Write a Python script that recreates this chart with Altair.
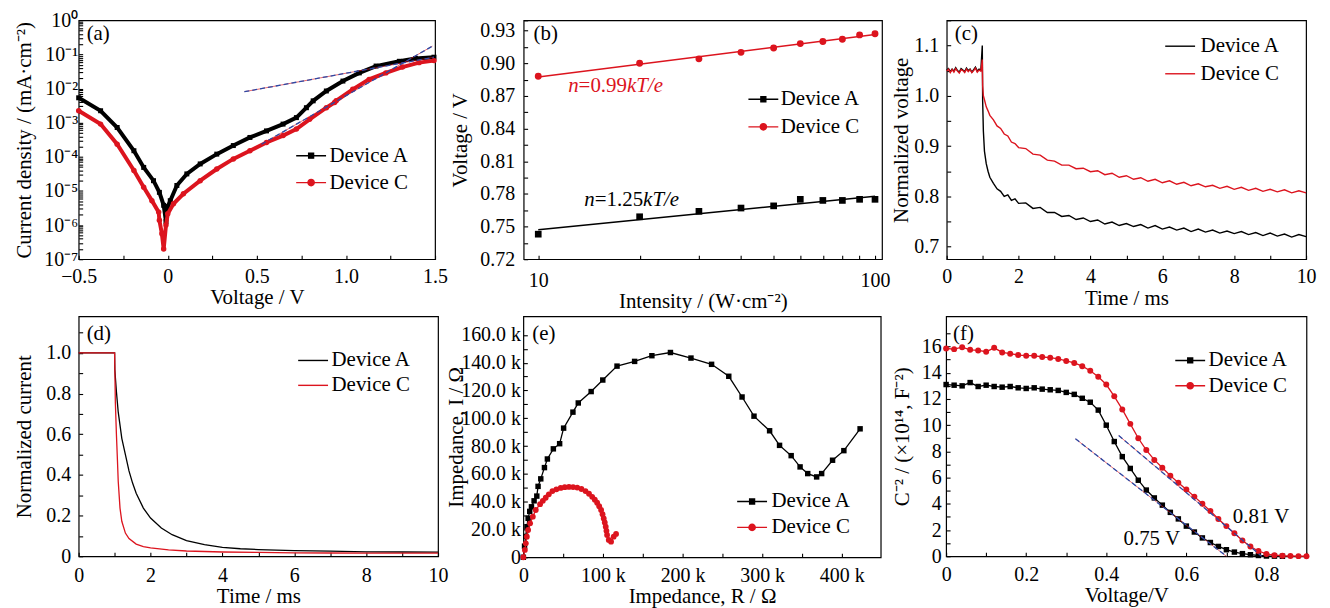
import altair as alt
import pandas as pd

FONT = "Liberation Serif"
RED = "#dc141e"
BLACK = "#000000"
BLUE = "#2b49a6"
DEV_A, DEV_C = "Device A", "Device C"
DEVICES = [DEV_A, DEV_C]

PATH_SQ = "M-2,0H2M-0.33,-0.33H0.33V0.33H-0.33Z"
PATH_CI = "M-2,0H2M0.42,0A0.42,0.42,0,1,1,-0.42,0A0.42,0.42,0,1,1,0.42,0Z"
PATH_LINE = "M-2,0H2"

# ---------------- (a) J-V curves ----------------
a_volt_A = [-0.5, -0.377, -0.284, -0.19, -0.135, -0.08, -0.047, -0.023, -0.01, 0.0, 0.014, 0.051,
            0.107, 0.182, 0.275, 0.368, 0.461, 0.554, 0.647, 0.722, 0.778, 0.816, 0.89, 0.983,
            1.075, 1.169, 1.30, 1.39, 1.494]
a_curr_A = [5.37e-3, 2.24e-3, 7.24e-4, 1.51e-4, 4.9e-5, 2.0e-5, 9.1e-6, 3.8e-6, 1.26e-6, 3.5e-6,
            5.2e-6, 1.45e-5, 3.16e-5, 6.2e-5, 1.2e-4, 2.14e-4, 3.7e-4, 5.75e-4, 9.1e-4, 1.41e-3,
            2.75e-3, 4.37e-3, 8.5e-3, 1.66e-2, 2.88e-2, 4.57e-2, 6.3e-2, 7.6e-2, 8.3e-2]
a_volt_C = [-0.5, -0.377, -0.284, -0.19, -0.135, -0.089, -0.051, -0.047, -0.033, -0.023, -0.01, 0.0,
            0.032, 0.088, 0.182, 0.275, 0.368, 0.461, 0.554, 0.647, 0.722, 0.796, 0.89, 0.936,
            0.945, 1.038, 1.13, 1.224, 1.317, 1.41, 1.494]
a_curr_C = [2.24e-3, 9.1e-4, 2.34e-4, 3.98e-5, 1.29e-5, 5.2e-6, 2.4e-6, 1.38e-6, 5.6e-7, 2.0e-7,
            1.0e-6, 2.14e-6, 4.2e-6, 8.3e-6, 2.0e-5, 4.4e-5, 8.7e-5, 1.51e-4, 2.63e-4, 4.2e-4,
            6.5e-4, 1.26e-3, 2.75e-3, 3.9e-3, 4.37e-3, 9.5e-3, 1.86e-2, 2.88e-2, 4.27e-2, 5.75e-2,
            6.6e-2]
a_fit_volt = [0.43, 1.494, 0.526, 1.485]
a_fit_curr = [8.1e-3, 8.3e-2, 2.34e-4, 0.175]
a_fit_id = ["1", "1", "2", "2"]

# ---------------- (b) Voc vs intensity ----------------
b_intensity = [10, 20, 30, 40, 50, 60, 70, 80, 90, 100]
b_volt_A = [0.743, 0.759, 0.764, 0.767, 0.769, 0.775, 0.774, 0.774, 0.775, 0.775]
b_volt_C = [0.888, 0.900, 0.904, 0.910, 0.914, 0.918, 0.920, 0.922, 0.926, 0.927]
b_fit_int = [10, 100]
b_fit_A = [0.7471, 0.7779]
b_fit_C = [0.8873, 0.9263]
b_note_C = ["n", "=0.99", "kT/e"]
b_note_A = ["n", "=1.25", "kT/e"]

# ---------------- (c) transient photovoltage ----------------
c_time = [0.0, 0.05, 0.1, 0.15, 0.2, 0.25, 0.3, 0.35, 0.4, 0.45, 0.5, 0.55, 0.6, 0.65, 0.7, 0.75,
          0.8, 0.85, 0.9, 0.95, 0.99, 1.0, 1.02, 1.05, 1.1, 1.15,
          1.2, 1.3, 1.4, 1.5, 1.6, 1.7, 1.8, 1.9, 2.0, 2.2, 2.4, 2.6, 2.8, 3.0, 3.2, 3.4, 3.6, 3.8,
          4.0, 4.2, 4.4, 4.6, 4.8, 5.0, 5.2, 5.4, 5.6, 5.8, 6.0, 6.2, 6.4, 6.6, 6.8, 7.0, 7.2, 7.4,
          7.6, 7.8, 8.0, 8.2, 8.4, 8.6, 8.8, 9.0, 9.2, 9.4, 9.6, 9.8, 10.0]
c_volt_A = [1.051, 1.054, 1.048, 1.053, 1.049, 1.056, 1.050, 1.047, 1.054, 1.051, 1.048, 1.055,
            1.050, 1.053, 1.047, 1.052, 1.057, 1.049, 1.053, 1.051, 1.100,
            0.990, 0.930, 0.890, 0.865, 0.850, 0.838, 0.826, 0.815, 0.810, 0.800, 0.803, 0.792,
            0.795, 0.786, 0.787, 0.776, 0.778, 0.768, 0.768, 0.760, 0.762, 0.754, 0.757, 0.750,
            0.753, 0.745, 0.749, 0.742, 0.746, 0.740, 0.744, 0.737, 0.742, 0.735, 0.739, 0.733,
            0.737, 0.730, 0.735, 0.729, 0.733, 0.727, 0.731, 0.726, 0.730, 0.724, 0.728, 0.722,
            0.727, 0.721, 0.725, 0.719, 0.724, 0.720]
c_volt_C = [1.049, 1.053, 1.046, 1.052, 1.047, 1.054, 1.049, 1.045, 1.052, 1.050, 1.046, 1.053,
            1.048, 1.052, 1.046, 1.050, 1.055, 1.047, 1.051, 1.049, 1.072,
            1.020, 1.000, 0.992, 0.978, 0.970, 0.961, 0.952, 0.940, 0.935, 0.924, 0.920, 0.908,
            0.905, 0.897, 0.895, 0.884, 0.882, 0.872, 0.870, 0.862, 0.862, 0.855, 0.856, 0.849,
            0.851, 0.843, 0.846, 0.838, 0.841, 0.834, 0.837, 0.830, 0.834, 0.827, 0.831, 0.824,
            0.828, 0.821, 0.825, 0.819, 0.822, 0.816, 0.820, 0.814, 0.818, 0.812, 0.816, 0.810,
            0.814, 0.809, 0.813, 0.807, 0.811, 0.807]

# ---------------- (d) transient photocurrent ----------------
d_time_A = [0.0, 0.5, 1.0, 1.005, 1.05, 1.1, 1.2, 1.3, 1.4, 1.5, 1.6, 1.8, 2.0, 2.3, 2.6, 3.0, 3.5,
            4.0, 4.5, 5.0, 6.0, 7.0, 8.0, 9.0, 10.0]
d_curr_A = [1.0, 1.0, 1.0, 0.92, 0.81, 0.71, 0.58, 0.50, 0.42, 0.36, 0.31, 0.237, 0.188, 0.139,
            0.106, 0.077, 0.057, 0.044, 0.037, 0.033, 0.028, 0.025, 0.022, 0.021, 0.020]
d_time_C = [0.0, 0.5, 1.0, 1.02, 1.05, 1.08, 1.1, 1.15, 1.2, 1.3, 1.4, 1.6, 1.8, 2.0, 2.5, 3.0, 4.0,
            5.0, 6.0, 7.0, 8.0, 9.0, 10.0]
d_curr_C = [1.0, 1.0, 1.0, 0.76, 0.60, 0.466, 0.37, 0.237, 0.172, 0.114, 0.087, 0.06, 0.048, 0.041,
            0.031, 0.026, 0.021, 0.019, 0.017, 0.016, 0.015, 0.015, 0.015]

# ---------------- (e) Nyquist (kOhm) ----------------
e_re_A = [0, 1.5, 3.0, 4.5, 6.0, 8.0, 10.2, 13.5, 16.9, 18.5, 21.9, 26.5, 30.2, 37.7, 45.6, 50.6,
          62.3, 69.0, 85.2, 99.8, 117.7, 139.8, 161.5, 184.8, 210.6, 236.5, 258.1, 274.8, 289.8,
          309.4, 321.9, 336.5, 347.7, 357.3, 368.5, 374.8, 388.5, 402.7, 423.1]
e_im_A = [0, 8, 15, 22, 28, 33, 36.3, 40.6, 44, 51, 56.4, 64.5, 70.7, 78, 81.7, 92.9, 104.4, 111,
          119.2, 127.5, 137.5, 140.9, 145, 147.3, 143.3, 138.8, 130.2, 115.3, 101.5, 91, 80.5, 73.1,
          65, 60.2, 57.8, 60.2, 69.8, 76.7, 92.4]
e_re_C = [0, 1.9, 3.1, 4.4, 6.0, 8.5, 11.9, 15.6, 21.0, 24.5, 28.1, 32.0, 36.5, 41.5, 46.9, 52.0,
          57.3, 62.5, 67.7, 73.0, 78.1, 82.5, 86.5, 89.8, 92.7, 95.3, 97.7, 99.5, 101.0, 102.3,
          103.5, 104.4, 105.2, 107.3, 110.2, 113.5, 116.5]
e_im_C = [0, 5.3, 10.0, 14.8, 19.6, 24.4, 29.2, 34.0, 38.2, 40.6, 42.8, 45.3, 47.6, 48.9, 49.9,
          50.4, 50.6, 50.5, 50.1, 49.1, 47.6, 45.7, 43.5, 41.4, 39.2, 36.7, 34.0, 31.0, 27.9, 25.0,
          22.0, 19.0, 16.0, 12.5, 11.2, 14.8, 16.8]

# ---------------- (f) Mott-Schottky ----------------
f_volt_A = [0.00, 0.02, 0.04, 0.06, 0.08, 0.10, 0.12, 0.14, 0.16, 0.18, 0.20, 0.22, 0.24, 0.26,
            0.28, 0.30, 0.32, 0.34, 0.36, 0.38, 0.40, 0.42, 0.44, 0.46, 0.48, 0.50, 0.52, 0.54,
            0.56, 0.58, 0.60, 0.62, 0.64, 0.66, 0.68, 0.70, 0.72, 0.74, 0.76, 0.78, 0.80, 0.82,
            0.84]
f_cap_A = [13.10, 13.05, 13.00, 13.25, 12.95, 13.05, 12.95, 12.90, 12.95, 12.85, 12.80, 12.85,
           12.75, 12.70, 12.65, 12.50, 12.35, 12.05, 11.75, 11.15, 10.00, 8.75, 7.60, 6.70, 5.80,
           5.05, 4.45, 3.90, 3.35, 2.85, 2.30, 1.85, 1.40, 1.05, 0.75, 0.50, 0.32, 0.20, 0.12,
           0.06, 0.02, 0.01, 0.0]
f_volt_C = [0.00, 0.02, 0.04, 0.06, 0.08, 0.10, 0.12, 0.14, 0.16, 0.18, 0.20, 0.22, 0.24, 0.26,
            0.28, 0.30, 0.32, 0.34, 0.36, 0.38, 0.40, 0.42, 0.44, 0.46, 0.48, 0.50, 0.52, 0.54,
            0.56, 0.58, 0.60, 0.62, 0.64, 0.66, 0.68, 0.70, 0.72, 0.74, 0.76, 0.78, 0.80, 0.82,
            0.84, 0.86, 0.88, 0.90]
f_cap_C = [15.85, 15.80, 15.95, 15.75, 15.70, 15.60, 15.90, 15.55, 15.45, 15.35, 15.30, 15.30,
           15.20, 15.15, 15.05, 14.90, 14.75, 14.50, 14.15, 13.70, 13.10, 12.20, 11.20, 10.10,
           9.00, 8.10, 7.35, 6.75, 6.15, 5.60, 5.10, 4.55, 4.00, 3.45, 2.85, 2.30, 1.75, 1.20,
           0.75, 0.40, 0.18, 0.08, 0.04, 0.02, 0.01, 0.00]
f_fit_volt = [0.323, 0.70, 0.431, 0.788]
f_fit_cap = [8.96, 0.0, 9.21, 0.0]
f_fit_id = ["A", "A", "C", "C"]
f_notes = ["0.81 V", "0.75 V"]
f_note_volt = [0.716, 0.443]
f_note_cap = [2.98, 1.35]

# ---------------- axis tick positions ----------------
a_xticks = [-0.5, -0.25, 0, 0.25, 0.5, 0.75, 1.0, 1.25, 1.5]
a_yticks = [m * 10.0 ** e for e in range(-7, 0) for m in range(1, 10)] + [1.0]
b_xticks = [10, 20, 30, 40, 50, 60, 70, 80, 90, 100]
b_yticks = [0.72, 0.735, 0.75, 0.765, 0.78, 0.795, 0.81, 0.825, 0.84, 0.855, 0.87, 0.885, 0.9,
            0.915, 0.93, 0.9394]
cd_xticks = [0, 1, 2, 3, 4, 5, 6, 7, 8, 9, 10]
c_yticks = [0.7, 0.75, 0.8, 0.85, 0.9, 0.95, 1.0, 1.05, 1.1, 1.15]
d_yticks = [0, 0.1, 0.2, 0.3, 0.4, 0.5, 0.6, 0.7, 0.8, 0.9, 1.0, 1.1]
e_xticks = [0, 50, 100, 150, 200, 250, 300, 350, 400]
e_yticks = [0, 10, 20, 30, 40, 50, 60, 70, 80, 90, 100, 110, 120, 130, 140, 150, 160]
f_xticks = [0, 0.1, 0.2, 0.3, 0.4, 0.5, 0.6, 0.7, 0.8, 0.9]
f_yticks = list(range(0, 18))

SUP = {0: "\u2070", 1: "\u207b\u00b9", 2: "\u207b\u00b2", 3: "\u207b\u00b3", 4: "\u207b\u2074",
       5: "\u207b\u2075", 6: "\u207b\u2076", 7: "\u207b\u2077"}
a_yexpr = "''"
for k in range(7, -1, -1):
    a_yexpr = f"abs(datum.value * 1e{k} - 1) < 1e-6 ? '10{SUP[k]}' : ({a_yexpr})"
a_xexpr = ("abs(datum.value*2 - round(datum.value*2)) > 0.001 ? '' : "
           "(datum.value == 0 ? '0' : format(datum.value, '.1f'))")
b_xexpr = "datum.value == 10 ? '10' : (datum.value == 100 ? '100' : '')"
b_yexpr = ("datum.value > 0.935 ? ' ' : (round((datum.value - 0.72)/0.015) % 2 == 0 ? "
           "format(datum.value, '.2f') : '')")
cd_xexpr = "datum.value % 2 == 0 ? format(datum.value, 'd') : ''"
c_yexpr = ("datum.value > 1.12 ? ' ' : (round(datum.value*20) % 2 == 0 ? "
           "format(datum.value, '.1f') : '')")
d_yexpr = ("datum.value == 0 ? '0' : (round(datum.value*10) % 2 == 0 ? "
           "format(datum.value, '.1f') : '')")
e_xexpr = ("datum.value == 0 ? '0' : "
           "(datum.value % 100 == 0 ? format(datum.value, 'd') + ' k' : '')")
e_yexpr = ("datum.value == 0 ? '0' : (datum.value % 20 == 0 ? "
           "format(datum.value, '.1f') + ' k' : '')")
f_xexpr = ("datum.value == 0 ? '0' : (round(datum.value*10) % 2 == 0 ? "
           "format(datum.value, '.1f') : '')")
f_yexpr = "datum.value % 2 == 0 ? format(datum.value, 'd') : ''"


def make_axis(title, values, expr, label_pad, extent):
    return alt.Axis(title=title, values=values, labelExpr=expr, labelPadding=label_pad,
                    minExtent=extent, maxExtent=extent, titlePadding=0, offset=-4, tickSize=4,
                    domain=False, grid=False, labelFlush=False, labelOverlap=False)


def xy(xf, yf, sx, sy, ax, ay):
    return dict(x=alt.X(xf, type="quantitative", scale=sx, axis=ax),
                y=alt.Y(yf, type="quantitative", scale=sy, axis=ay))


LX = -3.5   # shift of legend block (symbol) to the left
LOFF = -4.5  # correction of the legend label offset
XT = 2.0    # extra room between x tick labels and x titles


def legend_obj(lx, ly, row_pad, label_off, **kw):
    return alt.Legend(title=None, orient="none", legendX=lx + LX, legendY=ly, symbolSize=225,
                      symbolStrokeWidth=1.4, symbolOpacity=1, rowPadding=row_pad,
                      labelOffset=label_off + LOFF, padding=0, **kw)


def marker_legend(lx, ly, row_pad, label_off):
    lg = legend_obj(lx, ly, row_pad, label_off)
    col = alt.Scale(domain=DEVICES, range=[BLACK, RED])
    return alt.Chart(pd.DataFrame({"Device": DEVICES})).mark_point(
        filled=True, opacity=0, size=1).encode(
        x=alt.value(150), y=alt.value(100),
        fill=alt.Fill("Device:N", scale=col, legend=lg),
        stroke=alt.Stroke("Device:N", scale=col, legend=lg),
        shape=alt.Shape("Device:N", scale=alt.Scale(domain=DEVICES, range=[PATH_SQ, PATH_CI]),
                        legend=lg))


def letter(txt, px, py):
    return alt.Chart(pd.DataFrame({"t": [txt]})).mark_text(
        align="left", baseline="middle", font=FONT, fontSize=21, color=BLACK).encode(
        text="t:N", x=alt.value(px), y=alt.value(py))


def fit_layers(df, enc_kw):
    return [
        alt.Chart(df).mark_line(color=RED, strokeWidth=0.8, opacity=0.8).encode(
            detail="k:N", **enc_kw),
        alt.Chart(df).mark_line(color=BLUE, strokeWidth=1.3, strokeDash=[5, 3]).encode(
            detail="k:N", **enc_kw),
    ]


# ================= panel (a) =================
sx = alt.Scale(domain=[-0.5, 1.5], nice=False, zero=False)
sy = alt.Scale(type="log", domain=[1e-7, 1], nice=False)
ax = make_axis("Voltage / V", a_xticks, a_xexpr, 7.8, 27.5 + XT + 2)
ay = make_axis("Current density / (mA\u00b7cm\u207b\u00b2)", a_yticks, a_yexpr, 1, 48.7)
E = xy("v", "j", sx, sy, ax, ay)
dfA = pd.DataFrame({"v": a_volt_A, "j": a_curr_A})
dfC = pd.DataFrame({"v": a_volt_C, "j": a_curr_C})
dfF = pd.DataFrame({"v": a_fit_volt, "j": a_fit_curr, "k": a_fit_id})
pa = alt.layer(
    alt.Chart(dfA).mark_line(color=BLACK, strokeWidth=4).encode(**E),
    alt.Chart(dfA).mark_point(shape="square", filled=True, color=BLACK, size=25, opacity=1).encode(**E),
    alt.Chart(dfC).mark_line(color=RED, strokeWidth=4).encode(**E),
    alt.Chart(dfC).mark_point(shape="circle", filled=True, color=RED, size=30, opacity=1).encode(**E),
    *fit_layers(dfF, E),
    marker_legend(226.5, 125.5, 5, 12.5),
    letter("(a)", 8, 14),
).properties(width=358, height=240)

# ================= panel (b) =================
sx = alt.Scale(type="log", domain=[9.05, 104.9], nice=False)
sy = alt.Scale(domain=[0.72, 0.9394], nice=False, zero=False)
ax = make_axis("Intensity / (W\u00b7cm\u207b\u00b2)", b_xticks, b_xexpr, 11.2, 33.6 + XT)
ay = make_axis("Voltage / V", b_yticks, b_yexpr, 9, 57.7)
E = xy("i", "v", sx, sy, ax, ay)
dfA = pd.DataFrame({"i": b_intensity, "v": b_volt_A})
dfC = pd.DataFrame({"i": b_intensity, "v": b_volt_C})
fitA = pd.DataFrame({"i": b_fit_int, "v": b_fit_A})
fitC = pd.DataFrame({"i": b_fit_int, "v": b_fit_C})
noteC = pd.DataFrame({"i": [12.27], "v": [0.879]})
noteA = pd.DataFrame({"i": [13.7], "v": [0.774]})


def note_layers(df, parts, color):
    out = []
    for txt, dx, style in zip(parts, [0, 10.5, 59.1], ["italic", "normal", "italic"]):
        out.append(alt.Chart(df).mark_text(text=txt, dx=dx, fontStyle=style, align="left",
                                           baseline="middle", font=FONT, fontSize=21,
                                           color=color).encode(**E))
    return out


pb = alt.layer(
    alt.Chart(fitA).mark_line(color=BLACK, strokeWidth=1.5).encode(**E),
    alt.Chart(dfA).mark_point(shape="square", filled=True, color=BLACK, size=45, opacity=1).encode(**E),
    alt.Chart(fitC).mark_line(color=RED, strokeWidth=1.5).encode(**E),
    alt.Chart(dfC).mark_point(shape="circle", filled=True, color=RED, size=48, opacity=1).encode(**E),
    *note_layers(noteC, b_note_C, RED),
    *note_layers(noteA, b_note_A, BLACK),
    marker_legend(233.8, 68.8, 5.7, 11.5),
    letter("(b)", 10, 14),
).properties(width=360, height=240)

# ================= panel (c) =================
sx = alt.Scale(domain=[0, 10], nice=False, zero=False)
sy = alt.Scale(domain=[0.675, 1.15], nice=False, zero=False)
ax = make_axis("Time / ms", cd_xticks, cd_xexpr, 7.8, 30.5 + XT)
ay = make_axis("Normalized voltage", c_yticks, c_yexpr, 8, 39)
E = xy("t", "v", sx, sy, ax, ay)
dfc = pd.DataFrame({"t": c_time + c_time, "v": c_volt_A + c_volt_C,
                    "dev": [DEV_A] * len(c_time) + [DEV_C] * len(c_time)})
pc = alt.layer(
    alt.Chart(dfc).mark_line(strokeWidth=1.4).encode(
        color=alt.Color("dev:N", scale=alt.Scale(domain=DEVICES, range=[BLACK, RED]),
                        legend=legend_obj(227.5, 15.5, 5.7, 14.5, symbolType=PATH_LINE)),
        **E),
    letter("(c)", 8, 14),
).properties(width=361, height=240)

# ================= panel (d) =================
sx = alt.Scale(domain=[0, 10], nice=False, zero=False)
sy = alt.Scale(domain=[0, 1.18], nice=False, zero=False)
ax = make_axis("Time / ms", cd_xticks, cd_xexpr, 9.2, 31.9 + XT)
ay = make_axis("Normalized current", d_yticks, d_yexpr, 8, 48.7)
E = xy("t", "c", sx, sy, ax, ay)
dfd = pd.DataFrame({"t": d_time_A + d_time_C, "c": d_curr_A + d_curr_C,
                    "dev": [DEV_A] * len(d_time_A) + [DEV_C] * len(d_time_C)})
pd_ = alt.layer(
    alt.Chart(dfd).mark_line(strokeWidth=1.3).encode(
        color=alt.Color("dev:N", scale=alt.Scale(domain=DEVICES, range=[BLACK, RED]),
                        legend=legend_obj(228.5, 33.8, 3, 12.5, symbolType=PATH_LINE)),
        **E),
    letter("(d)", 8, 18),
).properties(width=361, height=241)

# ================= panel (e) =================
sx = alt.Scale(domain=[0, 449], nice=False, zero=False)
sy = alt.Scale(domain=[0, 173.3], nice=False, zero=False)
ax = make_axis("Impedance, R / \u03a9", e_xticks, e_xexpr, 8.2, 30.9 + XT)
ay = make_axis("Impedance, I / \u03a9", e_yticks, e_yexpr, 3, 61.4)
E = xy("r", "im", sx, sy, ax, ay)
dfA = pd.DataFrame({"r": e_re_A, "im": e_im_A, "o": range(len(e_re_A))})
dfC = pd.DataFrame({"r": e_re_C, "im": e_im_C, "o": range(len(e_re_C))})
# invisible spacer that reserves the gap to the right of panel (e)
spacer = alt.Chart(pd.DataFrame({"t": ["00"]})).mark_text(
    align="left", baseline="middle", font=FONT, fontSize=12.5, opacity=0).encode(
    text="t:N", x=alt.value(359), y=alt.value(120))
pe = alt.layer(
    alt.Chart(dfA).mark_line(color=BLACK, strokeWidth=1.3).encode(order="o:Q", **E),
    alt.Chart(dfA).mark_point(shape="square", filled=True, color=BLACK, size=30, opacity=1).encode(**E),
    alt.Chart(dfC).mark_line(color=RED, strokeWidth=1.3).encode(order="o:Q", **E),
    alt.Chart(dfC).mark_point(shape="circle", filled=True, color=RED, size=34, opacity=1).encode(**E),
    marker_legend(222.8, 175.5, 4, 13.5),
    letter("(e)", 9, 18),
    spacer,
).properties(width=359, height=242)

# ================= panel (f) =================
sx = alt.Scale(domain=[0, 0.9], nice=False, zero=False)
sy = alt.Scale(domain=[0, 18.3], nice=False, zero=False)
ax = make_axis("Voltage/V", f_xticks, f_xexpr, 8.2, 30.2 + XT)
ay = make_axis("C\u207b\u00b2 / (\u00d710\u00b9\u2074, F\u207b\u00b2)", f_yticks, f_yexpr, 5, 37.7)
E = xy("v", "c", sx, sy, ax, ay)
dfA = pd.DataFrame({"v": f_volt_A, "c": f_cap_A})
dfC = pd.DataFrame({"v": f_volt_C, "c": f_cap_C})
dfF = pd.DataFrame({"v": f_fit_volt, "c": f_fit_cap, "k": f_fit_id})
dfN = pd.DataFrame({"v": f_note_volt, "c": f_note_cap, "txt": f_notes})
pf = alt.layer(
    alt.Chart(dfA).mark_line(color=BLACK, strokeWidth=1.3).encode(**E),
    alt.Chart(dfA).mark_point(shape="square", filled=True, color=BLACK, size=30, opacity=1).encode(**E),
    alt.Chart(dfC).mark_line(color=RED, strokeWidth=1.3).encode(**E),
    alt.Chart(dfC).mark_point(shape="circle", filled=True, color=RED, size=36, opacity=1).encode(**E),
    *fit_layers(dfF, E),
    alt.Chart(dfN).mark_text(align="left", baseline="middle", font=FONT, fontSize=21,
                             color=BLACK).encode(text="txt:N", **E),
    marker_legend(238.2, 33.8, 3.4, 12.5),
    letter("(f)", 7, 18),
).properties(width=362, height=241)

IND = dict(color="independent", fill="independent", stroke="independent", shape="independent")
row1 = alt.hconcat(pa, pb, pc, spacing=-1).resolve_scale(**IND)
row2 = alt.hconcat(pd_, pe, pf, spacing=-4.3).resolve_scale(**IND)
chart = alt.vconcat(row1, row2, spacing=4.4 - XT).resolve_scale(**IND).properties(
    padding={"left": 4, "top": 0, "right": 5, "bottom": 0})
chart = (chart.configure(font=FONT)
         .configure_view(stroke=BLACK, strokeWidth=1.2)
         .configure_axis(labelFont=FONT, titleFont=FONT, labelFontSize=20, titleFontSize=21,
                         titleFontWeight="normal", labelColor=BLACK, titleColor=BLACK,
                         tickColor=BLACK, tickWidth=1.1)
         .configure_legend(labelFont=FONT, labelFontSize=21, labelColor=BLACK))

chart.save("out.html", embed_options={"renderer": "svg", "actions": False})
